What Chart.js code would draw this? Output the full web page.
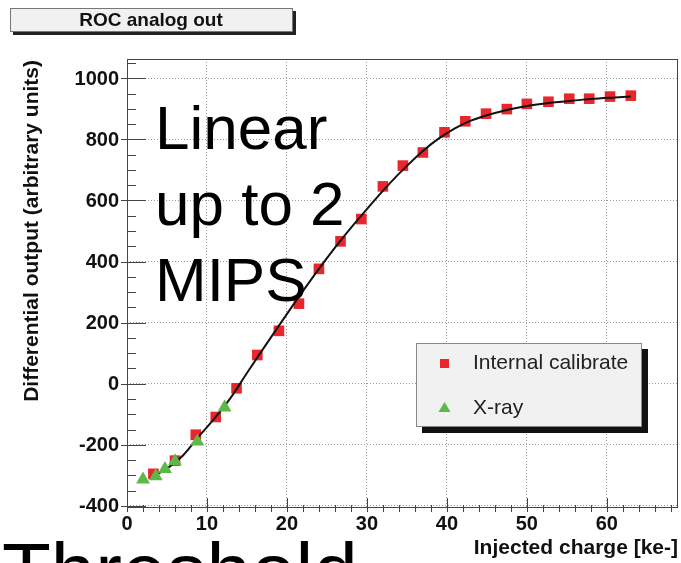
<!DOCTYPE html>
<html>
<head>
<meta charset="utf-8">
<script src="https://cdn.jsdelivr.net/npm/chart.js@4.4.1/dist/chart.umd.min.js"></script>
<style>
  html, body { margin: 0; padding: 0; background: #fff; }
  #wrap { width: 681px; height: 563px; }
</style>
</head>
<body>
<div id="wrap"><canvas id="roc"></canvas></div>
<script>
// internal calibration points (injected charge ke-, output)
const calX = [3.3, 6.0, 8.6, 11.1, 13.7, 16.3, 19.0, 21.5, 24.0, 26.7, 29.3, 32.0,
  34.5, 37.0, 39.7, 42.3, 44.9, 47.5, 50.0, 52.7, 55.3, 57.8, 60.4, 63.0];
const calY = [-295, -252, -167, -109, -15, 94, 173, 262, 376, 466, 539, 646,
  714, 757, 823, 859, 884, 899, 916, 923, 933, 933, 940, 943];

// x-ray points
const xrayX = [2.0, 3.6, 4.75, 6.0, 8.8, 12.2];
const xrayY = [-314, -303, -279, -254, -189, -78];

// fitted curve
const fitX = [3.5, 5, 7, 9, 11, 13, 15, 17, 19, 21, 23, 25, 27, 29, 31, 33, 35,
  37, 39, 41, 43, 45, 47, 49, 51, 53, 55, 57, 59, 61, 63];
const fitY = [-300, -278, -235, -172, -112, -45, 35, 113, 190, 266, 340, 411, 478,
  541, 602, 660, 713, 762, 803, 836, 861, 879, 893, 904, 913, 920, 925, 930, 934, 937, 940];

const xTicks = [0, 10, 20, 30, 40, 50, 60];
const yTicks = [-400, -200, 0, 200, 400, 600, 800, 1000];

const seriesNames = ["Internal calibrate", "X-ray"];
const plotTitle = "ROC analog out";
const xTitle = "Injected charge [ke-]";
const yTitle = "Differential output (arbitrary units)";
const noteLines = ["Linear", "up to 2", "MIPS"];
const noteBottom = "Threshold";

const RED = "#e8262b";
const GREEN = "#5cb848";
const FONT = '"Liberation Sans", Arial, Helvetica, sans-serif';

const toPts = (xs, ys) => xs.map((x, i) => ({ x: x, y: ys[i] }));

// ROOT style decorations: frame, ticks, labels, legend, title box
const rootDeco = {
  id: "rootDeco",
  afterDraw(chart) {
    const ctx = chart.ctx;
    const a = chart.chartArea;
    const xs = chart.scales.x, ys = chart.scales.y;
    ctx.save();

    // frame
    ctx.strokeStyle = "#444";
    ctx.lineWidth = 1;
    ctx.strokeRect(a.left + 0.5, a.top + 0.5, a.right - a.left - 1, a.bottom - a.top - 1);

    // y ticks
    ctx.beginPath();
    for (let v = -400; v <= 1050; v += 50) {
      const py = Math.round(ys.getPixelForValue(v)) + 0.5;
      const major = v % 200 === 0;
      ctx.moveTo(major ? a.left - 6 : a.left, py);
      ctx.lineTo(a.left + (major ? 19 : 9), py);
    }
    // x ticks
    for (let v = 0; v <= 68; v += 2) {
      const px = Math.round(xs.getPixelForValue(v)) + 0.5;
      const major = v % 10 === 0;
      ctx.moveTo(px, a.bottom + 4);
      ctx.lineTo(px, a.bottom - (major ? 10 : 3));
    }
    ctx.stroke();

    // tick labels
    ctx.fillStyle = "#111";
    ctx.font = "bold 20px " + FONT;
    ctx.textAlign = "right";
    ctx.textBaseline = "middle";
    yTicks.forEach(v => ctx.fillText(String(v), a.left - 8, ys.getPixelForValue(v) + 1));
    ctx.textAlign = "center";
    xTicks.forEach(v => ctx.fillText(String(v), xs.getPixelForValue(v), a.bottom + 16));

    // axis titles
    ctx.font = "bold 21px " + FONT;
    ctx.textAlign = "right";
    ctx.fillText(xTitle, a.right, 548);
    ctx.save();
    ctx.translate(32, a.top + 1);
    ctx.rotate(-Math.PI / 2);
    ctx.textAlign = "right";
    ctx.fillText(yTitle, 0, 0);
    ctx.restore();

    // title box
    ctx.fillStyle = "#222";
    ctx.fillRect(13, 11, 283, 24);
    ctx.fillStyle = "#f1f1f1";
    ctx.fillRect(10, 8, 283, 24);
    ctx.strokeStyle = "#777";
    ctx.strokeRect(10.5, 8.5, 282, 23);
    ctx.fillStyle = "#111";
    ctx.font = "bold 19px " + FONT;
    ctx.textAlign = "center";
    ctx.fillText(plotTitle, 151, 21);

    // legend box
    const lx = 416, ly = 343, lw = 226, lh = 84;
    ctx.fillStyle = "#111";
    ctx.fillRect(lx + 6, ly + 6, lw, lh);
    ctx.fillStyle = "#f1f1f1";
    ctx.fillRect(lx, ly, lw, lh);
    ctx.strokeStyle = "#888";
    ctx.strokeRect(lx + 0.5, ly + 0.5, lw - 1, lh - 1);
    const dsCal = chart.data.datasets[2], dsX = chart.data.datasets[0];
    ctx.fillStyle = dsCal.backgroundColor;
    ctx.fillRect(440, 359, 9, 9);
    ctx.fillStyle = dsX.backgroundColor;
    ctx.beginPath();
    ctx.moveTo(444.5, 402);
    ctx.lineTo(450.5, 412);
    ctx.lineTo(438.5, 412);
    ctx.closePath();
    ctx.fill();
    ctx.fillStyle = "#222";
    ctx.font = "21px " + FONT;
    ctx.textAlign = "left";
    ctx.fillText(dsCal.label, 473, 363);
    ctx.fillText(dsX.label, 473, 408);

    // big annotation text on top
    ctx.fillStyle = "#000";
    ctx.font = "62px " + FONT;
    ctx.textBaseline = "alphabetic";
    noteLines.forEach((t, i) => ctx.fillText(t, 155, 149 + i * 76));
    ctx.font = "80px " + FONT;
    ctx.fillText(noteBottom, 2, 599);

    ctx.restore();
  }
};

new Chart(document.getElementById("roc"), {
  type: "scatter",
  data: {
    datasets: [
      {
        label: seriesNames[1],
        data: toPts(xrayX, xrayY),
        pointStyle: "triangle",
        pointRadius: 8,
        backgroundColor: GREEN,
        borderColor: GREEN,
        borderWidth: 0
      },
      {
        type: "line",
        label: "fit",
        data: toPts(fitX, fitY),
        borderColor: "#111",
        borderWidth: 2,
        pointRadius: 0,
        fill: false,
        cubicInterpolationMode: "monotone"
      },
      {
        label: seriesNames[0],
        data: toPts(calX, calY),
        pointStyle: "rect",
        pointRadius: 7.5,
        backgroundColor: RED,
        borderColor: RED,
        borderWidth: 0
      }
    ]
  },
  options: {
    responsive: true,
    maintainAspectRatio: false,
    animation: false,
    events: [],
    layout: { autoPadding: false, padding: { left: 127, right: 3, top: 59, bottom: 55 } },
    plugins: { legend: { display: false }, tooltip: { enabled: false } },
    scales: {
      x: {
        type: "linear",
        min: 0,
        max: 68.9,
        afterBuildTicks: axis => { axis.ticks = xTicks.map(v => ({ value: v })); },
        ticks: { display: false },
        grid: { color: "#9a9a9a", lineWidth: 1, drawTicks: false },
        border: { display: false, dash: [1, 2] }
      },
      y: {
        type: "linear",
        min: -407,
        max: 1063,
        afterBuildTicks: axis => { axis.ticks = yTicks.map(v => ({ value: v })); },
        ticks: { display: false },
        grid: { color: "#9a9a9a", lineWidth: 1, drawTicks: false },
        border: { display: false, dash: [1, 2] }
      }
    }
  },
  plugins: [rootDeco]
});
</script>
</body>
</html>
